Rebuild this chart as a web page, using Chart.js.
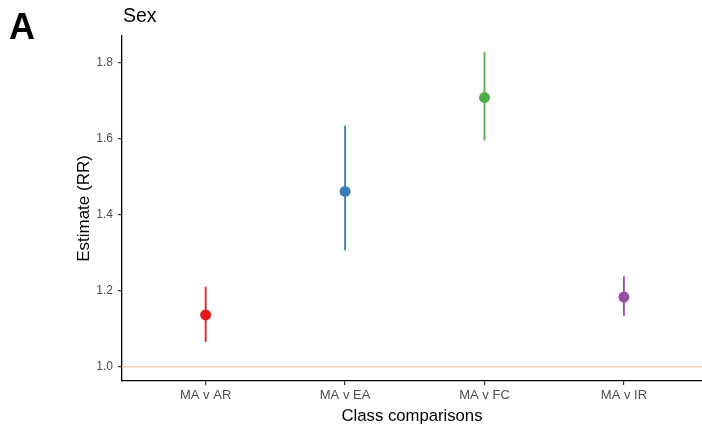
<!DOCTYPE html>
<html><head><meta charset="utf-8">
<script src="https://cdn.jsdelivr.net/npm/chart.js@4"></script>
<style>
html,body{margin:0;padding:0;overflow:hidden;background:#fff;width:702px;height:431px;}
canvas{display:block;}
</style></head><body>
<canvas id="c" width="702" height="431" style="width:702px;height:431px"></canvas>
<script>
const categories = ['MA v AR', 'MA v EA', 'MA v FC', 'MA v IR'];
const estimates = [1.137, 1.462, 1.709, 1.184];
const lowerCI = [1.066, 1.307, 1.596, 1.134];
const upperCI = [1.211, 1.635, 1.829, 1.239];
const colors = ['#E41A1C', '#377EB8', '#4DAF4A', '#984EA3'];
const yTicks = [1.0, 1.2, 1.4, 1.6, 1.8];
const refValue = 1.0;
const panelTag = 'A';
const plotTitle = 'Sex';
const xTitle = 'Class comparisons';
const yTitle = 'Estimate (RR)';

const FONT = '"Liberation Sans", Arial, Helvetica, sans-serif';

const datasets = [];
categories.forEach((c, i) => {
  datasets.push({
    data: [{x: i + 1, y: lowerCI[i]}, {x: i + 1, y: upperCI[i]}],
    showLine: true, borderColor: colors[i], borderWidth: 1.8,
    pointRadius: 0, pointHoverRadius: 0
  });
});
datasets.push({
  data: estimates.map((v, i) => ({x: i + 1, y: v})),
  showLine: false,
  pointRadius: 5.5, pointHoverRadius: 5.5,
  pointBackgroundColor: colors, pointBorderWidth: 0, borderWidth: 0
});

const refLine = {
  id: 'refLine',
  beforeDatasetsDraw(chart) {
    const {ctx, chartArea, scales} = chart;
    const y = scales.y.getPixelForValue(refValue);
    ctx.save();
    ctx.strokeStyle = '#fbc6b1';
    ctx.lineWidth = 1.2;
    ctx.beginPath();
    ctx.moveTo(chartArea.left, y);
    ctx.lineTo(chartArea.right, y);
    ctx.stroke();
    ctx.restore();
  }
};

const labels = {
  id: 'labels',
  afterDraw(chart) {
    const ctx = chart.ctx;
    ctx.save();
    ctx.fillStyle = '#000';
    ctx.textBaseline = 'alphabetic';
    ctx.textAlign = 'left';
    ctx.font = 'bold 36px ' + FONT;
    ctx.fillText(panelTag, 9, 39);
    ctx.font = '19.5px ' + FONT;
    ctx.fillText(plotTitle, 123, 22);
    ctx.restore();
  }
};

new Chart(document.getElementById('c'), {
  type: 'scatter',
  data: {datasets},
  options: {
    responsive: false,
    animation: false,
    devicePixelRatio: 1,
    layout: {autoPadding: false, padding: {top: 36, right: 0, bottom: 0, left: 0}},
    plugins: {legend: {display: false}, tooltip: {enabled: false}},
    scales: {
      x: {
        type: 'linear', min: 0.4, max: 4.56,
        afterBuildTicks: s => { s.ticks = categories.map((c, i) => ({value: i + 1})); },
        afterFit: s => { s.height = 50; },
        ticks: {
          callback: v => categories[Math.round(v) - 1],
          font: {family: FONT, size: 13}, color: '#4d4d4d', padding: 3,
          autoSkip: false, maxRotation: 0
        },
        grid: {drawOnChartArea: false, drawTicks: true, tickLength: 4, color: '#333', lineWidth: 1.2},
        border: {display: true, color: '#000', width: 1.3},
        title: {display: true, text: xTitle, color: '#000', font: {family: FONT, size: 16.7}, padding: {top: 0, bottom: 5}}
      },
      y: {
        type: 'linear', min: 0.963, max: 1.871,
        afterBuildTicks: s => { s.ticks = yTicks.map(v => ({value: v})); },
        afterFit: s => { s.width = 122; },
        ticks: {
          callback: v => v.toFixed(1),
          font: {family: FONT, size: 12}, color: '#4d4d4d', padding: 5
        },
        grid: {drawOnChartArea: false, drawTicks: true, tickLength: 4, color: '#333', lineWidth: 1.2},
        border: {display: true, color: '#000', width: 1.3},
        title: {display: true, text: yTitle, color: '#000', font: {family: FONT, size: 17}, padding: {top: 74, bottom: 0}}
      }
    }
  },
  plugins: [refLine, labels]
});
</script>
</body></html>
